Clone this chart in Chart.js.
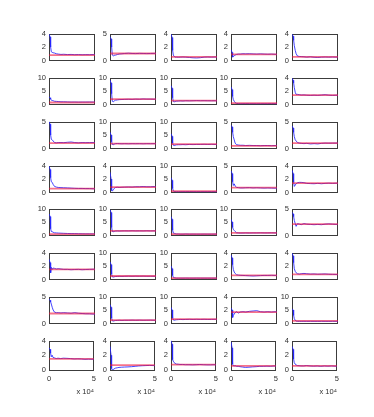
<!DOCTYPE html>
<html><head><meta charset="utf-8">
<script src="https://cdn.jsdelivr.net/npm/chart.js@4"></script>
<style>
html,body{margin:0;padding:0;background:#fff;}
#wrap{position:relative;width:374px;height:417px;overflow:hidden;background:#fff;}
canvas{position:absolute;}
</style>
</head><body><div id="wrap"></div>
<script>
// ---- data ----
const X_STEPS = [0, 0.12, 0.18, 0.25, 0.35, 0.45, 0.6, 0.8, 1, 1.3, 1.6, 2, 2.4, 2.8, 3.2, 3.6, 4, 4.4, 4.8, 5];
const X_TICKS = [0, 5];
const X_LABEL = 'x 10\u2074';
const Y_MAX = [
  4, 5, 4, 4, 4,
  10, 10, 10, 10, 4,
  5, 10, 10, 5, 5,
  4, 4, 10, 5, 4,
  10, 10, 10, 10, 5,
  4, 10, 10, 4, 4,
  5, 10, 10, 4, 10,
  4, 4, 4, 4, 4];
const TRUE_VALUES = [
  0.8, 1.3, 0.54, 0.9, 0.54,
  0.75, 2.0, 1.4, 0.5, 1.38,
  1.0, 1.8, 1.6, 0.5, 1.0,
  0.56, 0.8, 0.5, 0.9, 1.38,
  0.5, 1.7, 0.5, 1.0, 2.1,
  1.5, 1.3, 0.5, 0.6, 0.77,
  1.85, 1.25, 1.6, 1.7, 0.95,
  1.5, 0.65, 0.73, 0.56, 0.56];
const EST_ROW1 = [
  [3.9, 3.5, 2.0, 1.3, 1.2, 1.15, 1.1, 1.0, 0.95, 0.9, 0.92, 0.88, 0.9, 0.86, 0.88, 0.85, 0.87, 0.86, 0.88, 0.87],
  [4.4, 4.0, 2.5, 1.0, 0.85, 0.95, 1.0, 1.1, 1.2, 1.25, 1.3, 1.35, 1.3, 1.28, 1.32, 1.3, 1.28, 1.3, 1.32, 1.3],
  [3.9, 3.4, 1.5, 0.8, 0.6, 0.5, 0.5, 0.48, 0.5, 0.52, 0.5, 0.45, 0.4, 0.38, 0.42, 0.5, 0.52, 0.5, 0.52, 0.5],
  [1.6, 1.2, 0.5, 0.6, 0.7, 0.8, 0.9, 0.95, 0.95, 1.0, 0.98, 1.0, 0.97, 0.95, 0.98, 0.95, 0.93, 0.95, 0.92, 0.9],
  [3.9, 3.6, 3.0, 2.2, 1.5, 1.0, 0.65, 0.6, 0.58, 0.55, 0.5, 0.55, 0.48, 0.45, 0.5, 0.52, 0.5, 0.52, 0.5, 0.52]];
const EST_ROW2 = [
  [2.8, 2.5, 2.0, 1.6, 1.5, 1.4, 1.2, 1.15, 1.1, 1.0, 1.0, 0.95, 0.9, 0.92, 0.88, 0.9, 0.9, 0.92, 0.9, 0.9],
  [9.0, 8.0, 4.0, 1.2, 1.0, 1.3, 1.6, 1.7, 1.8, 1.85, 1.9, 1.95, 1.9, 2.0, 1.95, 2.05, 2.0, 2.0, 1.95, 2.0],
  [7.0, 6.0, 2.5, 1.1, 1.0, 1.1, 1.25, 1.3, 1.35, 1.3, 1.4, 1.35, 1.4, 1.45, 1.4, 1.42, 1.4, 1.38, 1.4, 1.4],
  [6.5, 5.5, 3.0, 1.8, 1.2, 0.7, 0.4, 0.35, 0.3, 0.3, 0.32, 0.3, 0.3, 0.28, 0.3, 0.3, 0.3, 0.32, 0.3, 0.3],
  [3.9, 3.6, 3.2, 2.5, 1.8, 1.5, 1.5, 1.45, 1.4, 1.42, 1.38, 1.35, 1.38, 1.35, 1.4, 1.45, 1.38, 1.35, 1.38, 1.36]];
const EST_ROW3 = [
  [5.0, 4.5, 2.5, 1.7, 1.6, 1.4, 1.1, 1.05, 1.1, 1.1, 1.08, 1.15, 1.2, 1.1, 1.05, 1.1, 1.08, 1.1, 1.1, 1.1],
  [6.0, 5.0, 2.5, 1.5, 1.4, 1.6, 1.8, 1.85, 1.8, 1.75, 1.8, 1.75, 1.8, 1.78, 1.8, 1.75, 1.8, 1.78, 1.8, 1.8],
  [5.5, 4.5, 2.0, 1.2, 1.1, 1.2, 1.35, 1.4, 1.4, 1.45, 1.4, 1.5, 1.45, 1.5, 1.5, 1.55, 1.5, 1.55, 1.5, 1.55],
  [4.3, 4.0, 3.0, 2.2, 1.6, 1.0, 0.7, 0.65, 0.6, 0.6, 0.55, 0.58, 0.55, 0.55, 0.52, 0.55, 0.55, 0.52, 0.55, 0.55],
  [4.2, 3.8, 3.0, 2.2, 1.6, 1.4, 1.1, 1.0, 0.95, 0.9, 0.95, 0.85, 0.9, 0.85, 0.95, 1.0, 0.98, 1.0, 1.0, 1.02]];
const EST_ROW4 = [
  [3.9, 3.4, 2.2, 1.6, 1.5, 1.2, 0.9, 0.8, 0.75, 0.72, 0.7, 0.68, 0.65, 0.62, 0.6, 0.6, 0.58, 0.58, 0.56, 0.56],
  [3.0, 2.0, 0.3, 0.2, 0.4, 0.6, 0.75, 0.78, 0.75, 0.78, 0.8, 0.82, 0.8, 0.85, 0.85, 0.88, 0.85, 0.85, 0.88, 0.85],
  [5.5, 4.5, 1.5, 0.6, 0.4, 0.35, 0.3, 0.3, 0.3, 0.3, 0.3, 0.32, 0.3, 0.3, 0.3, 0.3, 0.3, 0.3, 0.3, 0.3],
  [4.0, 3.5, 2.0, 1.3, 1.6, 1.2, 0.95, 0.9, 0.85, 0.85, 0.88, 0.9, 0.85, 0.88, 0.85, 0.82, 0.85, 0.82, 0.8, 0.82],
  [3.3, 2.8, 1.5, 0.9, 1.1, 1.3, 1.45, 1.5, 1.5, 1.45, 1.35, 1.32, 1.3, 1.35, 1.3, 1.35, 1.38, 1.35, 1.38, 1.35]];
const EST_ROW5 = [
  [8.0, 7.0, 2.5, 1.5, 1.4, 1.2, 1.0, 0.95, 0.9, 0.85, 0.8, 0.75, 0.7, 0.7, 0.65, 0.62, 0.6, 0.6, 0.58, 0.58],
  [9.5, 8.5, 3.0, 1.5, 1.4, 1.5, 1.65, 1.7, 1.65, 1.7, 1.72, 1.7, 1.75, 1.7, 1.72, 1.7, 1.75, 1.7, 1.72, 1.7],
  [7.0, 6.0, 2.0, 0.9, 0.8, 0.7, 0.55, 0.55, 0.5, 0.5, 0.55, 0.5, 0.52, 0.5, 0.5, 0.52, 0.5, 0.5, 0.52, 0.5],
  [6.0, 5.0, 3.0, 2.2, 1.9, 1.5, 1.0, 0.95, 0.9, 0.92, 0.95, 0.92, 0.95, 0.95, 0.98, 0.95, 0.95, 0.98, 0.95, 0.95],
  [4.3, 4.0, 3.5, 2.8, 2.2, 1.7, 2.2, 2.1, 2.0, 2.2, 2.1, 2.05, 2.0, 2.05, 2.0, 2.1, 2.15, 2.1, 2.05, 2.1]];
const EST_ROW6 = [
  [3.0, 2.5, 1.0, 1.8, 1.5, 1.7, 1.65, 1.55, 1.6, 1.55, 1.5, 1.5, 1.45, 1.48, 1.5, 1.45, 1.48, 1.5, 1.52, 1.5],
  [6.5, 5.5, 2.0, 1.0, 0.9, 1.0, 1.1, 1.15, 1.2, 1.15, 1.2, 1.25, 1.2, 1.25, 1.22, 1.25, 1.2, 1.22, 1.2, 1.2],
  [5.0, 4.0, 1.5, 0.8, 0.7, 0.6, 0.5, 0.5, 0.5, 0.5, 0.52, 0.5, 0.5, 0.52, 0.5, 0.5, 0.5, 0.5, 0.5, 0.5],
  [3.6, 3.2, 2.2, 1.5, 1.1, 0.9, 0.7, 0.65, 0.62, 0.6, 0.58, 0.55, 0.52, 0.55, 0.58, 0.6, 0.6, 0.62, 0.6, 0.6],
  [3.9, 3.5, 2.5, 1.6, 1.2, 1.0, 0.85, 0.8, 0.85, 0.9, 0.85, 0.8, 0.82, 0.78, 0.8, 0.82, 0.78, 0.76, 0.75, 0.72]];
const EST_ROW7 = [
  [4.5, 4.3, 4.0, 3.6, 3.0, 2.5, 2.1, 2.0, 2.0, 1.95, 2.0, 1.95, 1.9, 2.0, 1.9, 1.85, 1.8, 1.8, 1.75, 1.72],
  [7.0, 6.0, 2.0, 1.0, 0.9, 1.0, 1.1, 1.15, 1.2, 1.15, 1.2, 1.2, 1.25, 1.2, 1.25, 1.2, 1.22, 1.25, 1.2, 1.22],
  [6.0, 5.0, 2.0, 1.3, 1.2, 1.3, 1.4, 1.45, 1.5, 1.45, 1.5, 1.55, 1.5, 1.55, 1.5, 1.55, 1.5, 1.52, 1.55, 1.5],
  [2.3, 2.0, 0.9, 1.2, 1.4, 1.6, 1.75, 1.55, 1.7, 1.75, 1.7, 1.8, 1.85, 1.9, 1.75, 1.7, 1.75, 1.7, 1.75, 1.72],
  [5.5, 5.0, 3.0, 1.8, 1.2, 0.9, 0.8, 0.82, 0.8, 0.82, 0.8, 0.82, 0.8, 0.8, 0.82, 0.8, 0.8, 0.82, 0.8, 0.82]];
const EST_ROW8 = [
  [3.0, 2.8, 2.3, 1.8, 2.0, 1.7, 1.65, 1.55, 1.6, 1.55, 1.6, 1.58, 1.55, 1.5, 1.52, 1.5, 1.45, 1.48, 1.45, 1.48],
  [3.2, 2.0, 0.2, 0.0, 0.05, 0.15, 0.25, 0.3, 0.35, 0.38, 0.4, 0.42, 0.45, 0.5, 0.55, 0.58, 0.6, 0.62, 0.6, 0.6],
  [4.0, 3.5, 1.4, 1.2, 1.0, 0.9, 0.8, 0.78, 0.75, 0.75, 0.72, 0.72, 0.7, 0.72, 0.75, 0.72, 0.7, 0.7, 0.72, 0.7],
  [3.8, 3.0, 0.8, 0.6, 0.55, 0.6, 0.5, 0.5, 0.45, 0.4, 0.35, 0.38, 0.42, 0.45, 0.5, 0.5, 0.52, 0.5, 0.55, 0.52],
  [3.2, 2.8, 1.5, 1.0, 0.8, 0.7, 0.6, 0.58, 0.55, 0.55, 0.6, 0.55, 0.52, 0.55, 0.5, 0.55, 0.52, 0.55, 0.52, 0.5]];
const ESTIMATE_ROWS = [EST_ROW1, EST_ROW2, EST_ROW3, EST_ROW4, EST_ROW5, EST_ROW6, EST_ROW7, EST_ROW8];

// ---- layout / style ----
const NROWS = 8, NCOLS = 5;
const COL0 = 49, COLSTEP = 60.75, ROW0 = 31.7, ROWSTEP = 43.94;
const YW = 22, PT = 6, PR = 5, BW = 46, BH = 31;
const FONT = {family: '"Liberation Sans", Arial, "DejaVu Sans", sans-serif', size: 7.5};
const TXT = '#303030';

const boxPlugin = {
  id: 'box',
  beforeDatasetsDraw(chart) {
    const a = chart.chartArea, ctx = chart.ctx;
    ctx.save();
    ctx.strokeStyle = '#3c3c3c';
    ctx.lineWidth = 1;
    ctx.strokeRect(Math.round(a.left) + 0.5, Math.round(a.top) + 0.5,
                   Math.round(a.right - a.left) - 1, Math.round(a.bottom - a.top) - 1);
    ctx.restore();
  }
};

const wrap = document.getElementById('wrap');
for (let r = 0; r < NROWS; r++) {
  for (let c = 0; c < NCOLS; c++) {
    const k = r * NCOLS + c;
    const isBottom = r === NROWS - 1;
    const XH = isBottom ? 28 : 5;
    const cv = document.createElement('canvas');
    cv.width = YW + BW + PR;
    cv.height = PT + BH + XH;
    cv.style.left = (Math.round(COL0 + COLSTEP * c) - YW) + 'px';
    cv.style.top = (Math.round(ROW0 + ROWSTEP * r) - PT) + 'px';
    wrap.appendChild(cv);
    const ymax = Y_MAX[k];
    const est = ESTIMATE_ROWS[r][c];
    const t = TRUE_VALUES[k];
    new Chart(cv, {
      type: 'line',
      data: {
        datasets: [
          {data: [{x: X_TICKS[0], y: t}, {x: X_TICKS[1], y: t}], borderColor: 'rgba(240,20,60,0.6)',
           borderWidth: 1.8, pointRadius: 0, fill: false},
          {data: X_STEPS.map((x, i) => ({x: x, y: est[i]})), borderColor: 'rgba(35,35,255,0.85)',
           borderWidth: 1, pointRadius: 0, tension: 0, fill: false}
        ]
      },
      options: {
        animation: false, responsive: false, events: [],
        plugins: {legend: {display: false}, tooltip: {enabled: false}},
        layout: {padding: {top: PT, right: PR, left: 0, bottom: 0}},
        scales: {
          x: {
            type: 'linear', min: X_TICKS[0], max: X_TICKS[1],
            grid: {display: false, drawTicks: false}, border: {display: false},
            ticks: {display: isBottom, stepSize: 5, padding: 4, font: FONT, color: TXT, maxRotation: 0, autoSkip: false},
            title: {display: isBottom, text: X_LABEL, align: 'end', font: FONT, color: TXT, padding: {top: 0, bottom: 2}},
            afterFit(s) { s.height = XH; }
          },
          y: {
            min: 0, max: ymax,
            grid: {display: false, drawTicks: false}, border: {display: false},
            ticks: {stepSize: ymax === 4 ? 2 : 5, padding: 3, font: FONT, color: TXT},
            afterFit(s) { s.width = YW; }
          }
        }
      },
      plugins: [boxPlugin]
    });
  }
}
</script>
</body></html>
